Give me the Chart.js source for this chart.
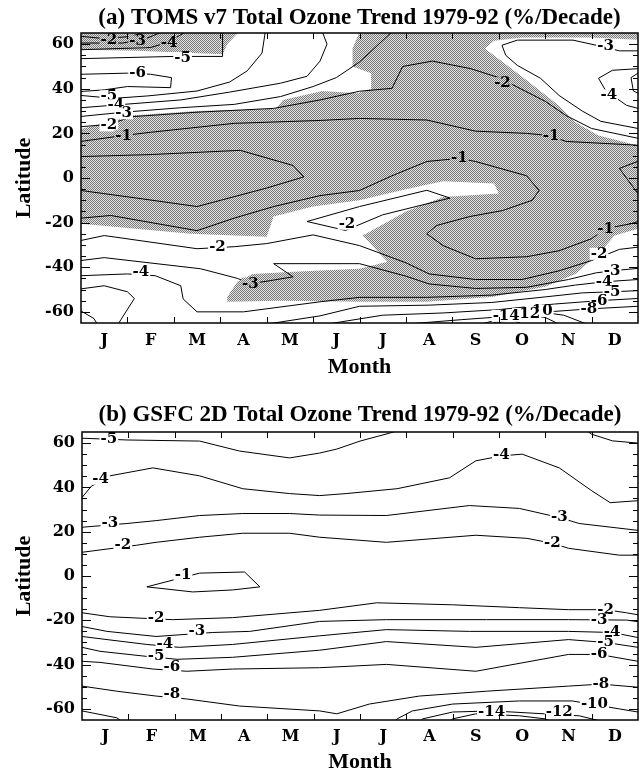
<!DOCTYPE html>
<html>
<head>
<meta charset="utf-8">
<script src="https://cdn.jsdelivr.net/npm/chart.js@4.4.1/dist/chart.umd.min.js"></script>
<style>
  html, body { margin: 0; padding: 0; background: #fff; overflow: hidden; }
  #wrap { position: relative; width: 639px; height: 773px; }
  canvas { position: absolute; left: 0; }
</style>
</head>
<body>
<div id="wrap">
  <canvas id="tomsChart" width="639" height="386" style="top:0"></canvas>
  <canvas id="gsfcChart" width="639" height="390" style="top:386px"></canvas>
</div>
<script>
// axes
var months = ["J","F","M","A","M","J","J","A","S","O","N","D"];
var latTicks = [-60, -40, -20, 0, 20, 40, 60];
var latMinorStep = 5;

var tomsTitle = "(a) TOMS v7 Total Ozone Trend 1979-92 (%/Decade)";
var gsfcTitle = "(b) GSFC 2D Total Ozone Trend 1979-92 (%/Decade)";

// ---- (a) TOMS : shaded areas, [month, latitude]
var tomsShadeMain = [[0,22],[1.07,28],[2.5,30],[4.2,31],[4.35,35],[5.2,39],[5.95,38],[6.25,40],[6.25,47],[5.85,50],[5.85,58],[6.0,65.5],
  [12,65.5],[12,-22.7],[11.5,-25.8],[11.15,-34],[10.65,-43],[10,-48.8],[8.85,-53.3],[7.45,-55.5],[6,-55.5],[4.3,-55],[3.15,-55.5],
  [3.15,-53.3],[3.37,-46.5],[3.7,-43],[4.57,-42],[6,-40.7],[6.6,-37.5],[6.07,-25.8],[7.0,-15],[7.8,-8.5],[9.0,-7],[8.9,-2.5],
  [7.8,-1.5],[7.0,-5],[6.0,-10],[5.0,-12.8],[4.15,-17.3],[4.0,-26.3],[2.36,-25],[0,-20.5]];
var tomsShadeCorner = [[0,65.5],[0,57.5],[1.2,57],[2.4,56],[3.05,55.5],[3.15,60],[3.4,65.5]];
var tomsClearNE = [[8.7,58],[8.9,61.5],[9.5,63],[11,63],[12,62],[12,14.6],[11.15,19],[10.65,25],[10.3,32.4],[9.65,43],[9.15,51]];

// ---- (a) TOMS : contour lines
var tomsM2a = [[0,63.5],[0.5,62.5],[1.1,63.5],[1.35,65.5]];
var tomsM3a = [[0,60.5],[0.9,60.5],[1.4,62.5],[1.75,65.5]];
var tomsM4a = [[0,57.5],[1.5,58.5],[1.9,61],[2.25,65.5]];
var tomsM5a = [[0,53.5],[2.0,54.5],[3.05,54.5],[3.05,65.5]];
var tomsM6 = [[0,46.5],[1.0,47],[1.5,46.5],[1.95,45],[1.93,40.5],[1.0,41],[0.5,39.5],[0,38.8]];
var tomsM5b = [[0,37],[0.7,35.7],[1.44,36.8],[2.5,39],[3.2,43],[3.58,48],[3.9,56],[3.97,65.5]];
var tomsM4b = [[0,31.5],[0.92,33],[2.15,35],[3.2,38.5],[4.3,42.5],[4.87,45.6],[5.15,52.4],[5.3,60],[5.2,65.5]];
var tomsM3b = [[0,27.6],[0.92,29.5],[2.15,31.5],[3.3,33],[4.3,36.5],[5.0,41],[5.5,45],[6.0,52],[6.7,65.5]];
var tomsM2b = [[0,23],[0.6,24],[1.1,27.5],[2.5,29.5],[4.15,31.2],[5.15,35],[6.0,38.9],[6.7,40.2],[6.93,50],[7.57,52.4],[8.4,49],[9.0,45],[10.0,34.4],[10.45,28],[11.0,22.2],[12,17.8]];
var tomsM1a = [[0,16.4],[0.9,19],[1.5,20.5],[3.3,24.5],[5.15,25.8],[6,26.7],[7.45,26],[8.5,21],[9.6,20],[10.1,19],[10.45,16.4],[12,14.7]];
var tomsM1eq = [[0,9.6],[1.5,10.5],[3.43,12.4],[4.57,5.6],[4.8,0.5],[4.0,-4.5],[2.5,-12.8],[1.2,-9],[0,-5.6]];
var tomsM1b = [[0,-18],[0.64,-16.8],[2.5,-23.6],[3.3,-18],[4.15,-12.8],[5.15,-7.9],[6.0,-5.6],[6.7,1],[7.45,7.4],[8.15,8.8],[8.5,7.4],[9.6,1],
  [9.87,-5.6],[9.72,-10],[9.08,-14.6],[8.37,-17.3],[7.66,-21.3],[7.45,-25],[7.8,-30.3],[8.5,-36.2],[9.6,-35.3],[10.3,-32.6],[11.0,-27.2],[11.3,-22.7],[11.85,-20.5],[12,-19.5]];
var tomsM3ne = [[12,57],[11.6,57],[11.1,59.5],[10.6,61.8],[9.4,61.8],[9.07,59.5],[9.15,55],[9.4,50.5],[9.9,44.7],[10.3,37],[10.8,30],[11.2,25.4],[12,22.2]];
var tomsM4ne = [[12,49],[11.45,48.3],[11.15,44.7],[11.3,39.3],[11.75,32.6],[12,31.2]];
var tomsM5ne = [[12,47],[11.85,45],[11.9,39],[12,38]];
var tomsEqR = [[12,7.5],[11.6,4.3],[11.75,0],[12,-7]];
var tomsM2w = [[5.7,-23.5],[4.87,-19.5],[6.0,-12.8],[7.45,-5.5],[7.95,-9],[6.5,-16.5],[5.7,-23.5]];
var tomsM2s = [[0,-28],[0.5,-25.8],[2.5,-31.7],[3.3,-30.8],[4.0,-29.4],[5.0,-25.5],[6.0,-30.3],[7.0,-38],[7.5,-43],[8.5,-45.5],[9.5,-45.5],[10.3,-41.6],[11.0,-37],[11.6,-32],[12,-31]];
var tomsM3s = [[0,-37],[0.5,-35.7],[2.58,-40.7],[3.37,-45],[3.65,-47.4],[4.08,-46],[4.57,-44.3],[4.15,-38.4],[6.0,-38.4],[7.0,-44],[7.5,-47.5],[8.5,-49.5],[9.6,-49],[10.5,-45.5],[11.1,-42.5],[11.6,-41.3],[12,-40.5]];
var tomsM4s = [[0,-43.8],[1.0,-43],[1.6,-43.8],[2.15,-48.3],[2.2,-54.2],[2.5,-60],[3.5,-60],[5.15,-55.5],[6.0,-53.5],[7.45,-53.5],[8.85,-52.5],[10,-50],[10.65,-48],[11.3,-46.5],[12,-45.5]];
var tomsM5s = [[4.0,-65.5],[5.15,-61.8],[6.0,-57.5],[7.5,-57],[8.85,-55.8],[10,-53.3],[10.8,-51.5],[11.44,-51],[12,-50.5]];
var tomsM6s = [[5.3,-65.5],[6.5,-61.5],[7.8,-60.5],[9,-59],[10.2,-56.5],[11.16,-55],[12,-54]];
var tomsM8 = [[7.0,-65.5],[8.2,-63.5],[9.2,-62],[10.2,-59.8],[10.94,-58.7],[12,-57.5]];
var tomsM10 = [[8.6,-65.5],[9.3,-62],[9.87,-60],[10.4,-61.5],[10.9,-65.5]];
var tomsM12 = [[8.9,-65.5],[9.3,-63],[9.6,-61.5],[10.0,-62.5],[10.3,-65.5]];
var tomsM14 = [[8.85,-65.5],[9.16,-62.3],[9.5,-65.5]];
var tomsSwA = [[0,-49.7],[0.5,-48.3],[1.0,-51],[1.15,-54],[0.86,-63.5],[0.8,-65.5]];
var tomsSwB = [[0,-59.6],[0.28,-63],[0.35,-65.5]];

// contour labels: [text, month, latitude, background]
var tomsLabels = [
  ["-2",0.6,61.8,"g"],["-3",1.22,61.3,"g"],["-4",1.9,60.4,"g"],["-5",2.19,53.7,"w"],["-6",1.22,47,"w"],
  ["-5",0.6,36.6,"w"],["-4",0.75,32.6,"w"],["-3",0.92,29,"w"],["-2",0.6,23.6,"w"],["-1",0.92,19,"g"],
  ["-2",9.08,42.5,"g"],["-1",10.13,19,"g"],["-1",8.15,8.8,"g"],["-3",11.3,59,"w"],["-4",11.37,37,"w"],
  ["-2",2.94,-30.8,"w"],["-2",5.73,-20.5,"w"],["-4",1.29,-42,"w"],["-3",3.65,-47.4,"g"],
  ["-1",11.3,-22.7,"g"],["-2",11.16,-34,"w"],["-3",11.44,-41.6,"w"],["-4",11.27,-46.5,"w"],["-5",11.44,-51,"w"],
  ["-6",11.16,-55,"w"],["-8",10.94,-58.7,"w"],["-10",9.87,-59.6,"w"],["-12",9.6,-61,"w"],["-14",9.16,-61.8,"w"]
];

// ---- (b) GSFC 2D : contour lines
var gsfcM5 = [[0,62.2],[0.97,61.4],[2.54,60.9],[3.4,56.4],[4.48,53.3],[5.13,55.5],[5.5,57.3],[6.0,60.9],[6.64,64.5],[6.8,65.5]];
var gsfcM5r = [[10.9,65.5],[11.0,64],[11.45,61],[12,60]];
var gsfcM4 = [[0,35.4],[0.2,40.5],[0.6,45.2],[1.53,48.8],[2.54,45.2],[3.47,39.4],[4.48,37.2],[5.13,36.3],[5.7,37.2],[6.8,39.4],[7.93,44.3],[8.5,52],[9.05,54.2],[9.5,55],[10.3,48.8],[11.0,38.5],[11.4,33.1],[12,34]];
var gsfcM3 = [[0,22],[0.97,23.7],[1.6,25],[2.54,27.3],[3.47,28.2],[4.48,28.2],[5.13,27.5],[6.57,27.3],[8.36,31.8],[9.44,30.5],[10.3,26.4],[10.73,23.7],[12,20.6]];
var gsfcM2 = [[0,10.7],[1.18,13.9],[1.6,15.2],[2.54,17.5],[3.47,19.3],[4.48,19.3],[5.13,17.5],[6.57,15.2],[8.5,18.4],[9.6,17],[10.15,14.8],[10.5,12.5],[11.6,9.4],[12,9.4]];
var gsfcM1 = [[1.4,-4.9],[2.54,1.3],[3.51,1.8],[3.84,-4.9],[3.25,-6.3],[2.39,-7.2],[1.4,-4.9]];
var gsfcM2s = [[0,-16.6],[0.6,-18.4],[1.96,-19.7],[3.25,-18.8],[5.13,-15.5],[6.36,-12.1],[8.0,-13],[9.44,-14.3],[10.5,-15.2],[11.3,-15.2],[11.75,-16.6],[12,-17.5]];
var gsfcM3s = [[0,-22.8],[0.54,-25],[1.6,-27.3],[2.82,-25.5],[3.62,-25],[5.13,-20.5],[6.57,-19.7],[8.73,-19.7],[10.5,-19.7],[11.75,-19.9],[12,-20.6]];
var gsfcM4s = [[0,-27.3],[0.54,-28.7],[1.4,-30.9],[2.1,-32.2],[3.25,-30.9],[5.13,-27],[6.57,-24.2],[8.36,-25],[10.5,-25],[11.45,-25.5],[12,-27.8]];
var gsfcM5s = [[0,-32.2],[0.39,-34],[1.4,-36.3],[2.05,-37.6],[3.25,-36.7],[5.13,-33.5],[6.57,-29.6],[8.5,-32.2],[10.5,-28.7],[11.3,-30],[12,-32.2]];
var gsfcM6s = [[0,-38.5],[0.39,-39],[1.53,-42],[2.26,-43],[3.25,-42],[5.13,-41.4],[6.57,-39.9],[8.5,-43],[10.5,-35.4],[11.16,-35.4],[12,-38.5]];
var gsfcM8 = [[0,-49.7],[0.75,-52],[1.6,-54.2],[2.26,-55.5],[3.4,-58.7],[5.13,-60.9],[5.5,-62.2],[6.2,-57.8],[7.28,-54.2],[8.73,-52],[10.5,-49.7],[11.2,-48.8],[12,-50.2]];
var gsfcM10a = [[0,-60.9],[0.75,-64],[0.85,-65.5]];
var gsfcM10b = [[6.75,-65.5],[6.8,-64.5],[7.13,-60.9],[8.0,-57.8],[9.44,-56.4],[10.58,-56.4],[11.6,-60],[12,-61.4]];
var gsfcM12 = [[7.3,-65.5],[7.35,-64.5],[8.0,-61.4],[8.86,-60.9],[10.73,-63.1],[11.2,-65.5]];
var gsfcM14 = [[7.95,-65.5],[8.0,-64.5],[8.5,-62.2],[9.44,-63.1],[10,-64.5],[10.1,-65.5]];

var gsfcLabels = [
  ["-5",0.58,61.8,"w"],["-4",0.4,43.9,"w"],["-3",0.6,23.7,"w"],["-2",0.88,13.9,"w"],["-1",2.18,0.4,"w"],
  ["-4",9.05,54.6,"w"],["-3",10.3,26.4,"w"],["-2",10.15,14.8,"w"],
  ["-2",1.6,-18.8,"w"],["-3",2.48,-25,"w"],["-4",1.79,-30.9,"w"],["-5",1.6,-36.3,"w"],["-6",1.94,-41.2,"w"],["-8",1.94,-53.3,"w"],
  ["-2",11.3,-15.2,"w"],["-3",11.16,-19.7,"w"],["-4",11.44,-25.5,"w"],["-5",11.3,-30,"w"],["-6",11.16,-35.4,"w"],
  ["-8",11.2,-48.8,"w"],["-10",11.06,-57.8,"w"],["-12",10.3,-61.4,"w"],["-14",8.84,-61.4,"w"]
];

var serifT = "'Liberation Serif', 'Times New Roman', serif";
var serifD = "'DejaVu Serif', serif";

// stippled grey used for the shaded areas
function stipple() {
  var c = document.createElement('canvas');
  c.width = 2; c.height = 2;
  var g = c.getContext('2d');
  g.fillStyle = '#e2e2e2'; g.fillRect(0, 0, 2, 2);
  g.fillStyle = '#7a7a7a'; g.fillRect(0, 0, 1, 1); g.fillRect(1, 1, 1, 1);
  return g.createPattern(c, 'repeat');
}

function pts(a) { return a.map(function (p) { return { x: p[0], y: p[1] }; }); }

function lineSet(a) {
  return { data: pts(a), borderColor: '#000', borderWidth: 1, pointRadius: 0, fill: false, tension: 0 };
}
function areaSet(a, color) {
  return { data: pts(a), borderColor: 'rgba(0,0,0,0)', borderWidth: 1, pointRadius: 0, fill: 'shape', backgroundColor: color, tension: 0 };
}

function labelPlugin(items, shade) {
  return {
    id: 'contourLabels',
    afterDatasetsDraw: function (chart) {
      var c = chart.ctx, x = chart.scales.x, y = chart.scales.y;
      c.save();
      c.font = "bold 15px " + serifD;
      c.textAlign = 'center';
      c.textBaseline = 'middle';
      items.forEach(function (l) {
        var px = x.getPixelForValue(l[1]), py = y.getPixelForValue(l[2]);
        var w = c.measureText(l[0]).width + 2;
        c.fillStyle = l[3] === 'g' ? shade : '#fff';
        c.fillRect(px - w / 2, py - 6, w, 12);
        c.fillStyle = '#000';
        c.fillText(l[0], px, py);
      });
      c.restore();
    }
  };
}

var framePlugin = {
  id: 'frame',
  afterDatasetsDraw: function (chart) {
    var a = chart.chartArea, x = chart.scales.x, y = chart.scales.y, c = chart.ctx;
    c.save();
    c.strokeStyle = '#000';
    c.lineWidth = 1;
    c.beginPath();
    for (var m = 1; m < months.length; m++) {
      var px = Math.round(x.getPixelForValue(m)) + 0.5;
      c.moveTo(px, a.bottom); c.lineTo(px, a.bottom - 6);
      c.moveTo(px, a.top); c.lineTo(px, a.top + 6);
    }
    for (var v = y.min + latMinorStep; v < y.max; v += latMinorStep) {
      var py = Math.round(y.getPixelForValue(v)) + 0.5;
      var len = latTicks.indexOf(v) >= 0 ? 9 : 5;
      c.moveTo(a.left, py); c.lineTo(a.left + len, py);
      c.moveTo(a.right, py); c.lineTo(a.right - len, py);
    }
    c.stroke();
    c.lineWidth = 1.5;
    c.strokeRect(a.left, a.top, a.right - a.left, a.bottom - a.top);
    c.restore();
  }
};

function buildChart(id, title, lines, clear, shaded, labels, box) {
  var shade = stipple();
  var ds = [];
  lines.forEach(function (l) { ds.push(lineSet(l)); });
  clear.forEach(function (w) { ds.push(areaSet(w, '#ffffff')); });
  shaded.forEach(function (s) { ds.push(areaSet(s, shade)); });
  return new Chart(document.getElementById(id), {
    type: 'line',
    data: { datasets: ds },
    options: {
      responsive: false,
      animation: false,
      devicePixelRatio: 1,
      layout: { padding: { left: 0, right: 1, top: 0, bottom: 0 } },
      plugins: {
        legend: { display: false },
        tooltip: { enabled: false },
        title: {
          display: true, text: title, fullSize: false, color: '#000',
          font: { family: serifT, size: 23, weight: 'bold' },
          padding: { top: box.tTop, bottom: box.tBot }
        }
      },
      scales: {
        x: {
          type: 'linear', min: 0, max: 12,
          grid: { display: false, drawTicks: false },
          border: { display: false },
          afterBuildTicks: function (s) { s.ticks = months.map(function (m, i) { return { value: i + 0.5 }; }); },
          afterFit: function (s) { s.height = box.xH; },
          ticks: {
            color: '#000', padding: box.xPad, autoSkip: false, maxRotation: 0,
            font: { family: serifD, size: 16, weight: 'bold' },
            callback: function (v) { return months[Math.floor(v)]; }
          },
          title: {
            display: true, text: 'Month', color: '#000',
            font: { family: serifT, size: 22, weight: 'bold' },
            padding: { top: 0, bottom: box.mPad }
          }
        },
        y: {
          type: 'linear', min: -65, max: 65,
          grid: { display: false, drawTicks: false },
          border: { display: false },
          afterBuildTicks: function (s) { s.ticks = latTicks.map(function (v) { return { value: v }; }); },
          afterFit: function (s) { s.width = box.yW; },
          ticks: { color: '#000', padding: 7, font: { family: serifD, size: 16, weight: 'bold' } },
          title: {
            display: true, text: 'Latitude', color: '#000',
            font: { family: serifT, size: 22, weight: 'bold' },
            padding: { top: 11, bottom: 0 }
          }
        }
      }
    },
    plugins: [labelPlugin(labels, shade), framePlugin]
  });
}

buildChart('tomsChart', tomsTitle,
  [tomsM2a, tomsM3a, tomsM4a, tomsM5a, tomsM6, tomsM5b, tomsM4b, tomsM3b, tomsM2b, tomsM1a, tomsM1eq, tomsM1b,
   tomsM3ne, tomsM4ne, tomsM5ne, tomsEqR, tomsM2w, tomsM2s, tomsM3s, tomsM4s, tomsM5s, tomsM6s, tomsM8, tomsM10,
   tomsM12, tomsM14, tomsSwA, tomsSwB],
  [tomsClearNE],
  [tomsShadeCorner, tomsShadeMain],
  tomsLabels,
  { tTop: 4, tBot: 1.4, xH: 63, xPad: 8, mPad: 5, yW: 81 });

buildChart('gsfcChart', gsfcTitle,
  [gsfcM5, gsfcM5r, gsfcM4, gsfcM3, gsfcM2, gsfcM1, gsfcM2s, gsfcM3s, gsfcM4s, gsfcM5s, gsfcM6s, gsfcM8,
   gsfcM10a, gsfcM10b, gsfcM12, gsfcM14],
  [],
  [],
  gsfcLabels,
  { tTop: 15, tBot: 3.4, xH: 56, xPad: 7, mPad: 0, yW: 82 });
</script>
</body>
</html>
